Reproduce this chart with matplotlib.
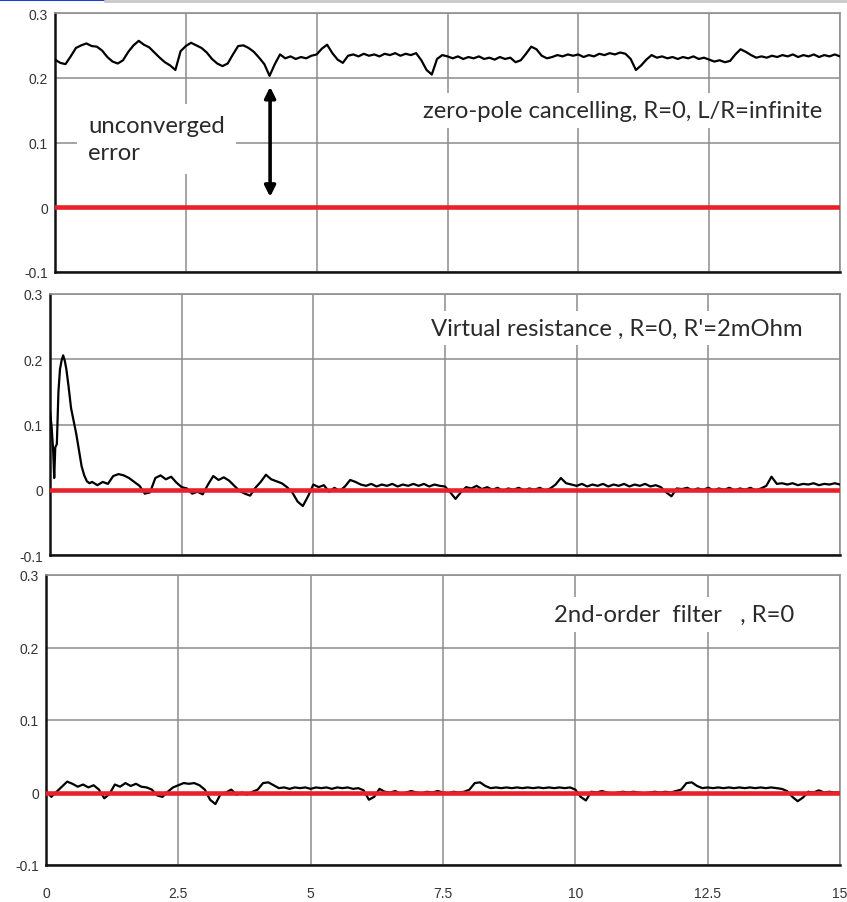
import numpy as np
import matplotlib
matplotlib.use("Agg")
import matplotlib.pyplot as plt
from matplotlib.lines import Line2D

# ---------------- data ----------------
x_ticks = [0, 2.5, 5, 7.5, 10, 12.5, 15]
x_tick_labels = ["0", "2.5", "5", "7.5", "10", "12.5", "15"]
y_ticks = [-0.1, 0, 0.1, 0.2, 0.3]
y_tick_labels = ["-0.1", "0", "0.1", "0.2", "0.3"]

# panel 1: zero-pole cancelling (time base 0.0 .. 15.0 step 0.1)
t1 = [round(0.1 * i, 1) for i in range(151)]
err1 = [
    0.228, 0.223, 0.221, 0.233, 0.246, 0.250, 0.253, 0.249, 0.248, 0.242,
    0.232, 0.225, 0.222, 0.227, 0.240, 0.250, 0.257, 0.251, 0.247, 0.239,
    0.231, 0.224, 0.219, 0.212, 0.241, 0.249, 0.254, 0.250, 0.246, 0.239,
    0.229, 0.222, 0.218, 0.222, 0.236, 0.249, 0.250, 0.246, 0.240, 0.231,
    0.221, 0.203, 0.221, 0.236, 0.230, 0.233, 0.229, 0.232, 0.230, 0.234,
    0.236, 0.245, 0.251, 0.238, 0.228, 0.223, 0.234, 0.236, 0.233, 0.237,
    0.234, 0.236, 0.233, 0.237, 0.235, 0.238, 0.234, 0.237, 0.235, 0.238,
    0.227, 0.212, 0.205, 0.229, 0.235, 0.233, 0.230, 0.233, 0.229, 0.232,
    0.230, 0.233, 0.229, 0.231, 0.228, 0.232, 0.229, 0.231, 0.224, 0.227,
    0.237, 0.248, 0.244, 0.234, 0.230, 0.232, 0.235, 0.233, 0.236, 0.234,
    0.236, 0.232, 0.235, 0.233, 0.237, 0.235, 0.238, 0.236, 0.239, 0.237,
    0.229, 0.212, 0.219, 0.228, 0.235, 0.231, 0.233, 0.230, 0.232, 0.229,
    0.232, 0.230, 0.233, 0.229, 0.231, 0.228, 0.225, 0.227, 0.224, 0.226,
    0.236, 0.244, 0.240, 0.235, 0.231, 0.233, 0.231, 0.234, 0.232, 0.235,
    0.233, 0.236, 0.232, 0.235, 0.233, 0.236, 0.232, 0.235, 0.233, 0.236,
    0.233,
]

# panel 2: virtual resistance
t2_head = [0, 0.03, 0.06, 0.08, 0.1, 0.13, 0.16, 0.19, 0.22, 0.25, 0.28,
           0.31, 0.35, 0.4, 0.45, 0.5, 0.55, 0.6, 0.65, 0.7, 0.75, 0.8]
err2_head = [0.120, 0.097, 0.060, 0.018, 0.065, 0.070, 0.150, 0.185, 0.198,
             0.206, 0.198, 0.185, 0.160, 0.125, 0.105, 0.085, 0.060, 0.036,
             0.022, 0.013, 0.010, 0.012]
t2_tail = [round(0.9 + 0.1 * i, 1) for i in range(142)]
err2_tail = [
    0.007, 0.012, 0.009, 0.021, 0.024, 0.022, 0.018, 0.012, 0.006, -0.006,
    -0.004, 0.018, 0.022, 0.016, 0.020, 0.011, 0.004, 0.002, -0.006, -0.003,
    -0.007, 0.008, 0.021, 0.015, 0.019, 0.014, 0.006, -0.002, -0.006, -0.009,
    0.003, 0.012, 0.023, 0.016, 0.013, 0.010, 0.004, -0.004, -0.018, -0.025,
    -0.010, 0.008, 0.004, 0.007, -0.003, 0.003, -0.002, 0.005, 0.015, 0.012,
    0.008, 0.006, 0.009, 0.005, 0.008, 0.006, 0.009, 0.005, 0.008, 0.006,
    0.009, 0.006, 0.009, 0.005, 0.008, 0.006, 0.005, -0.004, -0.014, -0.004,
    0.004, 0.002, 0.006, 0.001, 0.004, 0.000, 0.003, -0.002, 0.002, 0.000,
    0.003, -0.001, 0.002, 0.000, 0.003, -0.001, 0.002, 0.008, 0.018, 0.010,
    0.008, 0.006, 0.009, 0.005, 0.008, 0.006, 0.009, 0.005, 0.008, 0.006,
    0.009, 0.005, 0.008, 0.006, 0.009, 0.005, 0.007, 0.004, -0.004, -0.010,
    0.002, 0.001, 0.003, -0.001, 0.002, 0.000, 0.003, -0.001, 0.002, 0.000,
    0.003, -0.001, 0.002, 0.000, 0.003, -0.001, 0.002, 0.006, 0.020, 0.009,
    0.010, 0.008, 0.010, 0.007, 0.009, 0.008, 0.010, 0.007, 0.009, 0.008,
    0.010, 0.008,
]
t2 = t2_head + t2_tail
err2 = err2_head + err2_tail

# panel 3: 2nd-order filter
t3 = [round(0.1 * i, 1) for i in range(151)]
err3 = [
    0.002, -0.006, 0.001, 0.008, 0.015, 0.012, 0.008, 0.011, 0.007, 0.010,
    0.004, -0.008, -0.002, 0.011, 0.008, 0.013, 0.009, 0.012, 0.008, 0.007,
    0.004, -0.004, -0.006, 0.001, 0.007, 0.010, 0.013, 0.012, 0.013, 0.010,
    0.004, -0.010, -0.016, -0.002, 0.000, 0.004, -0.003, 0.000, -0.003, 0.001,
    0.004, 0.013, 0.014, 0.010, 0.006, 0.007, 0.005, 0.007, 0.006, 0.007,
    0.005, 0.007, 0.006, 0.007, 0.005, 0.007, 0.006, 0.007, 0.005, 0.006,
    0.003, -0.010, -0.006, 0.005, 0.001, 0.000, 0.002, -0.002, 0.000, 0.002,
    0.000, -0.001, 0.001, 0.000, 0.002, 0.000, -0.001, 0.001, 0.000, 0.001,
    0.004, 0.013, 0.014, 0.009, 0.006, 0.007, 0.006, 0.007, 0.006, 0.007,
    0.006, 0.007, 0.006, 0.007, 0.006, 0.007, 0.006, 0.007, 0.006, 0.007,
    0.004, -0.006, -0.011, 0.001, 0.000, 0.002, 0.000, -0.002, 0.000, 0.001,
    0.000, 0.001, 0.000, -0.001, 0.000, 0.001, 0.000, 0.001, 0.000, 0.002,
    0.004, 0.013, 0.014, 0.009, 0.006, 0.007, 0.006, 0.007, 0.006, 0.007,
    0.006, 0.007, 0.006, 0.007, 0.006, 0.007, 0.006, 0.007, 0.006, 0.005,
    0.002, -0.006, -0.012, -0.007, 0.001, 0.000, 0.003, 0.000, 0.001, 0.000,
    0.000,
]

labels = ["zero-pole cancelling, R=0, L/R=infinite",
          "Virtual resistance , R=0, R'=2mOhm",
          "2nd-order  filter   , R=0"]
label_pos = [(10.85, 0.150), (10.77, 0.248), (11.87, 0.246)]

# ---------------- figure ----------------
W, H = 847, 903
fig = plt.figure(figsize=(W / 100, H / 100), dpi=100)
fig.patch.set_facecolor("white")

# panel rectangles in pixels: left, right, top, bottom
rects_px = [(55, 840, 14, 273), (50, 840, 295, 556), (46, 840, 576, 866)]
series = [(t1, err1), (t2, err2), (t3, err3)]

TXT = "#2a2a2a"
TICK = "#333333"
GRID = "#8c8c8c"
LBL_FS = 17.2

axes = []
for i, ((l, r, tp, bt), (tt, vv)) in enumerate(zip(rects_px, series)):
    ax = fig.add_axes([l / W, 1 - bt / H, (r - l) / W, (bt - tp) / H])
    axes.append(ax)
    ax.plot(tt, vv, color="black", lw=1.6, zorder=3)
    ax.axhline(0, color="#e8212b", lw=3.3, zorder=4)
    ax.set_xlim(0, 15)
    ax.set_ylim(-0.1, 0.3)
    ax.set_xticks(x_ticks)
    ax.set_yticks(y_ticks)
    ax.set_yticklabels(y_tick_labels, fontfamily="Liberation Sans",
                       fontsize=10, color=TICK)
    if i == 2:
        ax.set_xticklabels(x_tick_labels, fontfamily="Liberation Sans",
                           fontsize=10, color=TICK)
    else:
        ax.set_xticklabels([])
    ax.tick_params(length=0, pad=5)
    ax.tick_params(axis="x", pad=15)
    ax.grid(True, color=GRID, lw=1.1, zorder=1)
    ax.set_axisbelow(True)
    for side in ["top", "right"]:
        ax.spines[side].set_color("#909090")
        ax.spines[side].set_linewidth(1.2)
    for side in ["left", "bottom"]:
        ax.spines[side].set_color("#111111")
        ax.spines[side].set_linewidth(1.8)
    x0, y0 = label_pos[i]
    ax.text(x0, y0, labels[i], ha="center", va="center", fontsize=LBL_FS,
            fontfamily="Lato", color=TXT, zorder=5,
            bbox=dict(facecolor="white", edgecolor="none", pad=5))

# annotation in panel 1
ax1 = axes[0]
ax1.text(0.63, 0.105, "unconverged\nerror", ha="left", va="center",
         fontsize=LBL_FS, fontfamily="Lato", color=TXT, linespacing=1.35,
         zorder=5, bbox=dict(facecolor="white", edgecolor="none", pad=8))
ax1.annotate("", xy=(4.11, 0.186), xytext=(4.11, 0.016),
             arrowprops=dict(arrowstyle="<|-|>", color="black", lw=2.6,
                             mutation_scale=16, shrinkA=0, shrinkB=0),
             zorder=6)

# top frame bits from the screenshot
fig.add_artist(Line2D([0, 105 / W], [1 - 1 / H, 1 - 1 / H], color="#1f3fd8",
                      lw=1.5, transform=fig.transFigure))
fig.add_artist(Line2D([105 / W, 1], [1 - 2 / H, 1 - 2 / H], color="#c8c8c8",
                      lw=2, transform=fig.transFigure))

fig.savefig("out.png", dpi=100, facecolor="white")
